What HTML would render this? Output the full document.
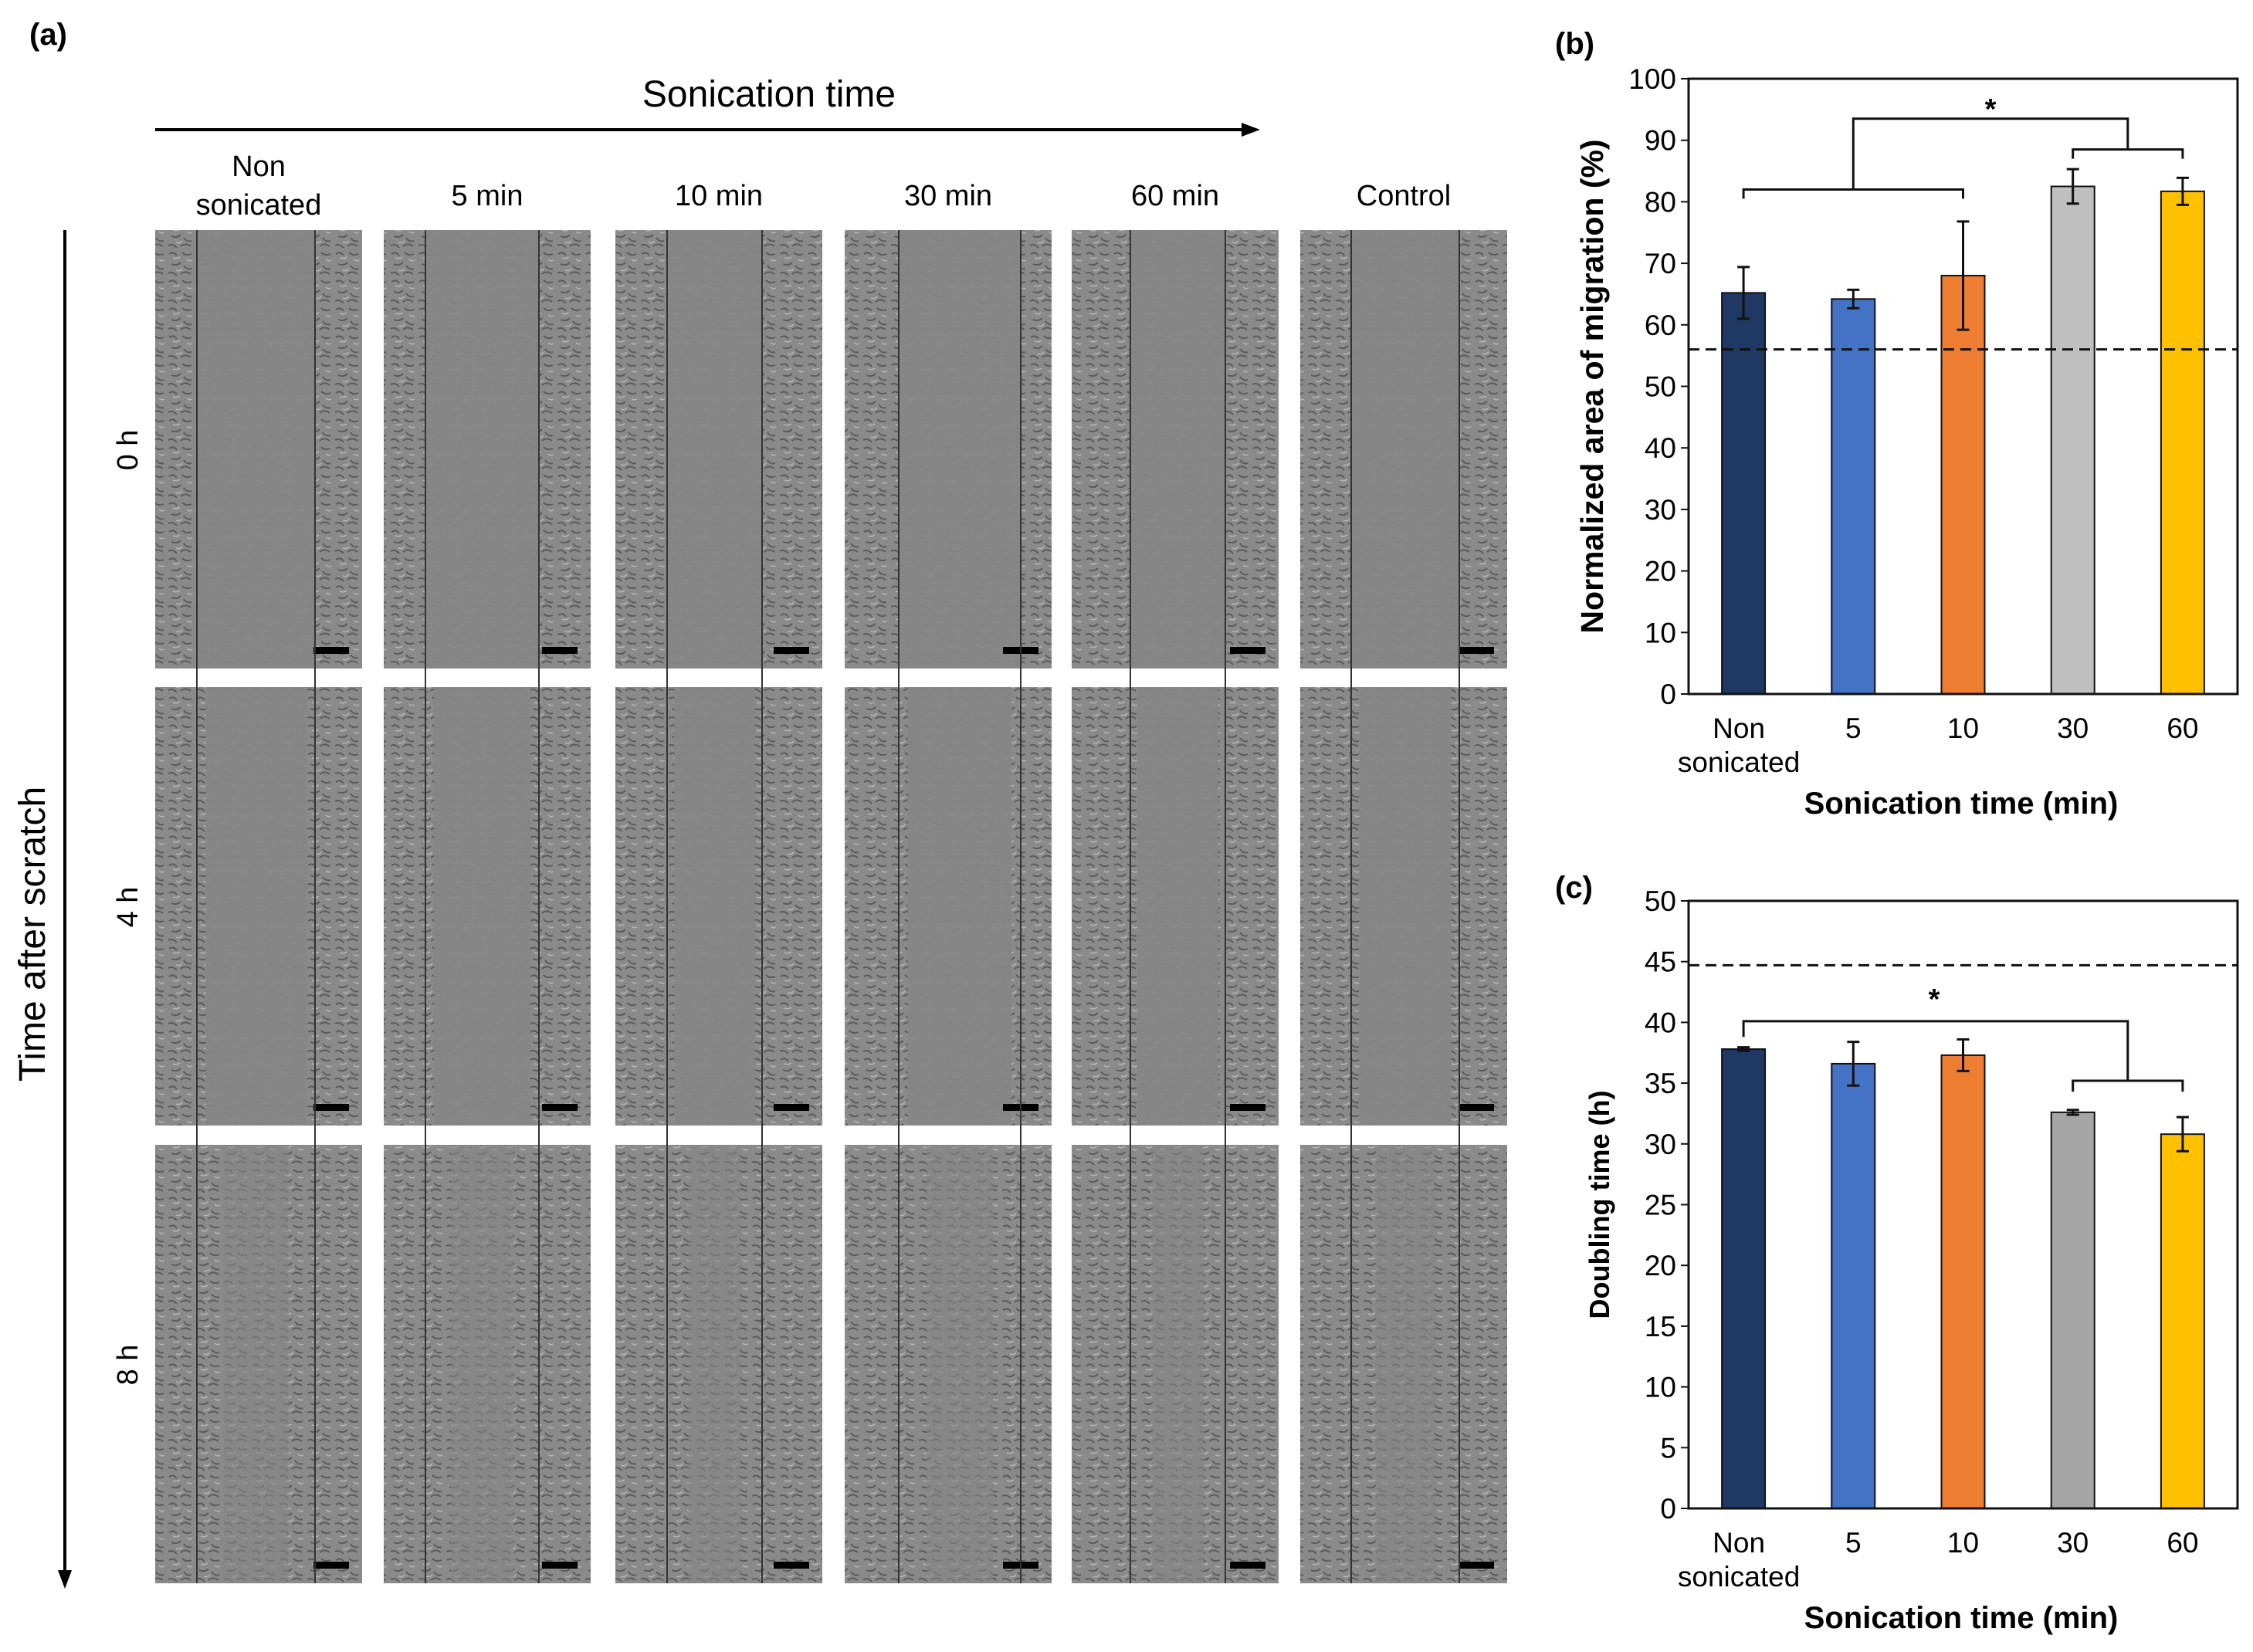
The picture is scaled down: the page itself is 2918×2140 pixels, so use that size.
<!DOCTYPE html>
<html><head><meta charset="utf-8"><style>
html,body{margin:0;padding:0;background:#fff}
svg{display:block;font-family:"Liberation Sans",Arial,sans-serif}
</style></head><body>
<svg id="fig" width="2918" height="2140" viewBox="0 0 2918 2140" xmlns="http://www.w3.org/2000/svg">
<defs>
<pattern id="cells" patternUnits="userSpaceOnUse" width="36" height="36">
<rect width="36" height="36" fill="#8a8a8a"/>
<path d="M3 5 q6 -4 10 2 M20 3 q5 5 12 2 M6 18 q7 3 12 -2 M22 20 q4 6 10 4 M2 30 q6 -3 11 3 M18 31 q6 -5 13 0" stroke="#5c5c5c" stroke-width="2" fill="none"/>
<path d="M8 10 q5 2 9 -1 M26 12 q3 3 7 1 M12 26 q5 2 8 -2" stroke="#b4b4b4" stroke-width="1.5" fill="none"/>
</pattern>
</defs>
<rect width="2918" height="2140" fill="#fff"/>

<text x="38" y="58" font-size="40" font-weight="bold">(a)</text>
<text x="996" y="138" font-size="48" text-anchor="middle">Sonication time</text>
<line x1="201" y1="168" x2="1615" y2="168" stroke="#000" stroke-width="4"/>
<polygon points="1632,168 1608,159 1608,177" fill="#000"/>
<line x1="84" y1="298" x2="84" y2="2040" stroke="#000" stroke-width="4"/>
<polygon points="84,2058 75,2034 93,2034" fill="#000"/>
<text transform="translate(58,1210) rotate(-90)" font-size="48" text-anchor="middle">Time after scratch</text>
<g id="grid"></g>

<g id="chartB"></g>
<g id="chartC"></g>
</svg>
<script>
const NS='http://www.w3.org/2000/svg';
function el(tag,attrs,parent,txt){const e=document.createElementNS(NS,tag);for(const k in attrs)e.setAttribute(k,attrs[k]);if(txt!==undefined)e.textContent=txt;parent.appendChild(e);return e;}

// ---- panel (a) micrograph grid ----
const colLabels=['Non|sonicated','5 min','10 min','30 min','60 min','Control'];
const rowLabels=['0 h','4 h','8 h'];
const colX=[201,497,797,1094,1388,1684];
const rowY=[298,890,1483];
const lineOff=[[54,207],[54,201],[67,190],[70,228],[76,199],[66,206]];
const grid=document.getElementById('grid');
colLabels.forEach((l,i)=>{
  const cx=colX[i]+134;
  const parts=l.split('|');
  if(parts.length===2){
    const t1=el('text',{x:cx,y:228,'font-size':38,'text-anchor':'middle'},grid,parts[0]);
    
    
    const t2=el('text',{x:cx,y:278,'font-size':38,'text-anchor':'middle'},grid,parts[1]);
    
    
  } else {
    const t=el('text',{x:cx,y:266,'font-size':38,'text-anchor':'middle'},grid,l);
    
    
  }
});
rowLabels.forEach((l,r)=>{
  const t=el('text',{transform:`translate(178,${rowY[r]+285}) rotate(-90)`,'font-size':38,'text-anchor':'middle'},grid,l);
  
  
});
const gapFrac=[1,0.85,0.55];
colX.forEach((x,c)=>{
  rowY.forEach((y,r)=>{
    const g=el('g',{},grid);
    
    
    el('rect',{x:x,y:y,width:268,height:568,fill:'url(#cells)'},g);
    const [a,b]=lineOff[c];
    const w=(b-a)*gapFrac[r];
    const m=(a+b)/2;
    el('rect',{x:x+m-w/2,y:y,width:w,height:568,fill:'#868686',opacity:r===2?0.6:0.95},g);
    el('rect',{x:x+205,y:y+540,width:46,height:9,fill:'#000'},g);
  });
  const [a,b]=lineOff[c];
  el('line',{x1:colX[c]+a,y1:298,x2:colX[c]+a,y2:2051,stroke:'#333','stroke-width':2},grid);
  el('line',{x1:colX[c]+b,y1:298,x2:colX[c]+b,y2:2051,stroke:'#333','stroke-width':2},grid);
});

// ---- charts data ----
const categories=['Non|sonicated','5','10','30','60'];
const colors=['#1f3864','#4472c4','#ed7d31','#bfbfbf','#ffc000'];
const migValues=[65.2,64.2,68.0,82.5,81.7];
const migErrors=[4.2,1.5,8.8,2.8,2.2];
const migRef=56;
const migTicks=[0,10,20,30,40,50,60,70,80,90,100];
const dblValues=[37.8,36.6,37.3,32.6,30.8];
const dblErrors=[0.15,1.8,1.3,0.2,1.4];
const dblRef=44.7;
const dblTicks=[0,5,10,15,20,25,30,35,40,45,50];
const colorsC=['#1f3864','#4472c4','#ed7d31','#a5a5a5','#ffc000'];

function chart(gid,opt){
  const g=document.getElementById(gid);
  const L=2187,R=2898,T=opt.top,B=opt.bottom,max=opt.max;
  const y=v=>B-(v/max)*(B-T);
  const band=(R-L)/5;
  const xc=i=>L+band*(i+0.5);
  el('text',{x:2014,y:opt.labelY,'font-size':40,'font-weight':'bold'},g,opt.label);
  opt.values.forEach((v,i)=>{
    const r=el('rect',{x:xc(i)-28,y:y(v),width:56,height:B-y(v),fill:opt.colors[i],stroke:'#111','stroke-width':2},g);
    
    
    const e=opt.errors[i];
    const eg=el('g',{stroke:'#111','stroke-width':3},g);
    
    
    el('line',{x1:xc(i),y1:y(v+e),x2:xc(i),y2:y(v-e)},eg);
    el('line',{x1:xc(i)-8,y1:y(v+e),x2:xc(i)+8,y2:y(v+e)},eg);
    el('line',{x1:xc(i)-8,y1:y(v-e),x2:xc(i)+8,y2:y(v-e)},eg);
  });
  const f=el('rect',{x:L,y:T,width:R-L,height:B-T,fill:'none',stroke:'#111','stroke-width':3},g);
  
  
  const d=el('line',{x1:L,y1:y(opt.ref),x2:R,y2:y(opt.ref),stroke:'#111','stroke-width':3,'stroke-dasharray':'14 8'},g);
  
  
  opt.ticks.forEach(t=>{
    el('line',{x1:L-10,y1:y(t),x2:L,y2:y(t),stroke:'#111','stroke-width':2},g);
    const tl=el('text',{x:L-16,y:y(t)+13,'font-size':37,'text-anchor':'end'},g,String(t));
    
    
  });
  categories.forEach((c,i)=>{
    const p=c.split('|');
    const tl=el('text',{x:xc(i)-(p.length>1?6:0),y:B+57,'font-size':37,'text-anchor':'middle'},g,p[0]);
    
    
    if(p.length>1){const t2=el('text',{x:xc(i)-6,y:B+101,'font-size':37,'text-anchor':'middle'},g,p[1]);
      
      }
  });
  const xt=el('text',{x:2540,y:B+155,'font-size':40,'font-weight':'bold','text-anchor':'middle'},g,'Sonication time (min)');
  
  
  const yt=el('text',{transform:`translate(${opt.ytX},${(T+B)/2}) rotate(-90)`,'font-size':opt.ytSize,'font-weight':'bold','text-anchor':'middle'},g,opt.ytitle);
  
  
  opt.sig(g,xc,y);
}
chart('chartB',{top:102,bottom:899,max:100,values:migValues,errors:migErrors,ref:migRef,ticks:migTicks,colors:colors,
 names:['non','5','10','30','60'],label:'(b)',labelY:70,ytitle:'Normalized area of migration (%)',ytX:2076,ytSize:41,
 sig:(g,xc,y)=>{
  const s=el('g',{stroke:'#111','stroke-width':3,fill:'none'},g);
  
  
  el('polyline',{points:`${xc(0)},${y(80.5)} ${xc(0)},${y(82)} ${xc(2)},${y(82)} ${xc(2)},${y(80.5)}`},s);
  el('polyline',{points:`${xc(3)},${y(87)} ${xc(3)},${y(88.5)} ${xc(4)},${y(88.5)} ${xc(4)},${y(87)}`},s);
  const m=(xc(3)+xc(4))/2;
  el('polyline',{points:`${xc(1)},${y(82)} ${xc(1)},${y(93.5)} ${m},${y(93.5)} ${m},${y(88.5)}`},s);
  const st=el('text',{x:(xc(1)+m)/2,y:y(95)+12,'font-size':38,'font-weight':'bold','text-anchor':'middle'},g,'*');
  
  
 }});
chart('chartC',{top:1167,bottom:1954,max:50,values:dblValues,errors:dblErrors,ref:dblRef,ticks:dblTicks,colors:colorsC,
 names:['non','5','10','30','60'],label:'(c)',labelY:1163,ytitle:'Doubling time (h)',ytX:2084,ytSize:36,
 sig:(g,xc,y)=>{
  const s=el('g',{stroke:'#111','stroke-width':3,fill:'none'},g);
  
  
  const m=(xc(3)+xc(4))/2;
  el('polyline',{points:`${xc(3)},${y(34.3)} ${xc(3)},${y(35.2)} ${xc(4)},${y(35.2)} ${xc(4)},${y(34.3)}`},s);
  el('polyline',{points:`${xc(0)},${y(38.8)} ${xc(0)},${y(40.1)} ${m},${y(40.1)} ${m},${y(35.2)}`},s);
  const st=el('text',{x:2505,y:y(42)+14,'font-size':38,'font-weight':'bold','text-anchor':'middle'},g,'*');
  
  
 }});
</script>
</body></html>
